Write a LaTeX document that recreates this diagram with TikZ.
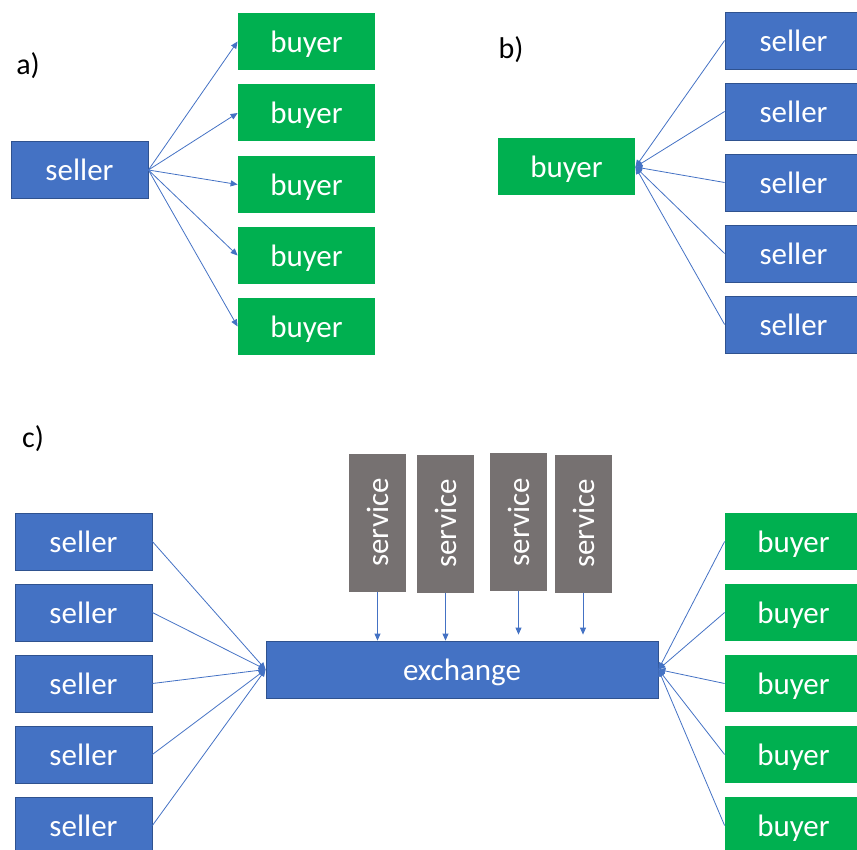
\documentclass[tikz,border=0pt]{standalone}
\usepackage{fontspec}
\setmainfont{Carlito}
\usepackage{tikz}
\usetikzlibrary{arrows.meta}

\definecolor{boxblue}{HTML}{4472C4}
\definecolor{edgeblue}{HTML}{2F528F}
\definecolor{boxgreen}{HTML}{00B050}
\definecolor{boxgray}{HTML}{767171}

\tikzset{
  sellerbox/.style={shape=rectangle,fill=boxblue,draw=edgeblue,line width=0.8pt,text=white,
    minimum width=137pt,minimum height=57pt,inner sep=0pt,text height=27pt,text depth=5pt,
    font=\fontsize{31}{36}\selectfont},
  buyerbox/.style={sellerbox,fill=boxgreen,draw=none},
  servicebox/.style={sellerbox,fill=boxgray,draw=none,rotate=90,minimum width=138pt},
  link/.style={draw=boxblue,line width=0.8pt},
  tip/.style={link,-{Triangle[length=7pt,width=6pt]}},
  tag/.style={font=\fontsize{30}{34}\selectfont}
}

\begin{document}
\begin{tikzpicture}[x=1pt,y=-1pt]
\useasboundingbox (0,0) rectangle (857,850);

% a) one seller, many buyers
\node (a) at (28,66) [tag] {a)};
\node (sa) at (79.5,170) [sellerbox] {seller};
\node (ba1) at (306.5,41.5) [buyerbox] {buyer};
\node (ba2) at (306.5,113) [buyerbox] {buyer};
\node (ba3) at (306.5,184.5) [buyerbox] {buyer};
\node (ba4) at (306.5,255.5) [buyerbox] {buyer};
\node (ba5) at (306.5,326.5) [buyerbox] {buyer};
\draw [tip] (sa.east) -- (ba1.west);
\draw [tip] (sa.east) -- (ba2.west);
\draw [tip] (sa.east) -- (ba3.west);
\draw [tip] (sa.east) -- (ba4.west);
\draw [tip] (sa.east) -- (ba5.west);

% b) one buyer, many sellers
\node (b) at (511,50) [tag] {b)};
\node (bb) at (566.5,167) [buyerbox] {buyer};
\node (sb1) at (793.5,40.5) [sellerbox] {seller};
\node (sb2) at (793.5,111.5) [sellerbox] {seller};
\node (sb3) at (793.5,182.5) [sellerbox] {seller};
\node (sb4) at (793.5,253.5) [sellerbox] {seller};
\node (sb5) at (793.5,324.5) [sellerbox] {seller};
\draw [tip] (sb1.west) -- (bb.east);
\draw [tip] (sb2.west) -- (bb.east);
\draw [tip] (sb3.west) -- (bb.east);
\draw [tip] (sb4.west) -- (bb.east);
\draw [tip] (sb5.west) -- (bb.east);

% c) exchange with services
\node (c) at (33,439) [tag] {c)};
\node (ex) at (462,669.5) [sellerbox,minimum width=392pt] {exchange};
\node (sv1) at (377.5,522.5) [servicebox] {service};
\node (sv2) at (445.5,523.5) [servicebox] {service};
\node (sv3) at (518.5,522) [servicebox] {service};
\node (sv4) at (583,523.5) [servicebox] {service};
\draw [tip] (sv1.west) -- (sv1.west |- ex.north);
\draw [tip] (sv2.west) -- (sv2.west |- ex.north);
\draw [tip,shorten >=6pt] (sv3.west) -- (sv3.west |- ex.north);
\draw [tip,shorten >=6pt] (sv4.west) -- (sv4.west |- ex.north);

\node (sc1) at (83.5,541.5) [sellerbox] {seller};
\node (sc2) at (83.5,612.5) [sellerbox] {seller};
\node (sc3) at (83.5,683.5) [sellerbox] {seller};
\node (sc4) at (83.5,754.5) [sellerbox] {seller};
\node (sc5) at (83.5,825.5) [sellerbox] {seller};
\draw [tip] (sc1.east) -- (ex.west);
\draw [tip] (sc2.east) -- (ex.west);
\draw [tip] (sc3.east) -- (ex.west);
\draw [tip] (sc4.east) -- (ex.west);
\draw [tip] (sc5.east) -- (ex.west);

\node (bc1) at (793.5,541.5) [buyerbox] {buyer};
\node (bc2) at (793.5,612.5) [buyerbox] {buyer};
\node (bc3) at (793.5,683.5) [buyerbox] {buyer};
\node (bc4) at (793.5,754.5) [buyerbox] {buyer};
\node (bc5) at (793.5,825.5) [buyerbox] {buyer};
\draw [tip] (bc1.west) -- (ex.east);
\draw [tip] (bc2.west) -- (ex.east);
\draw [tip] (bc3.west) -- (ex.east);
\draw [tip] (bc4.west) -- (ex.east);
\draw [tip] (bc5.west) -- (ex.east);
\end{tikzpicture}
\end{document}
